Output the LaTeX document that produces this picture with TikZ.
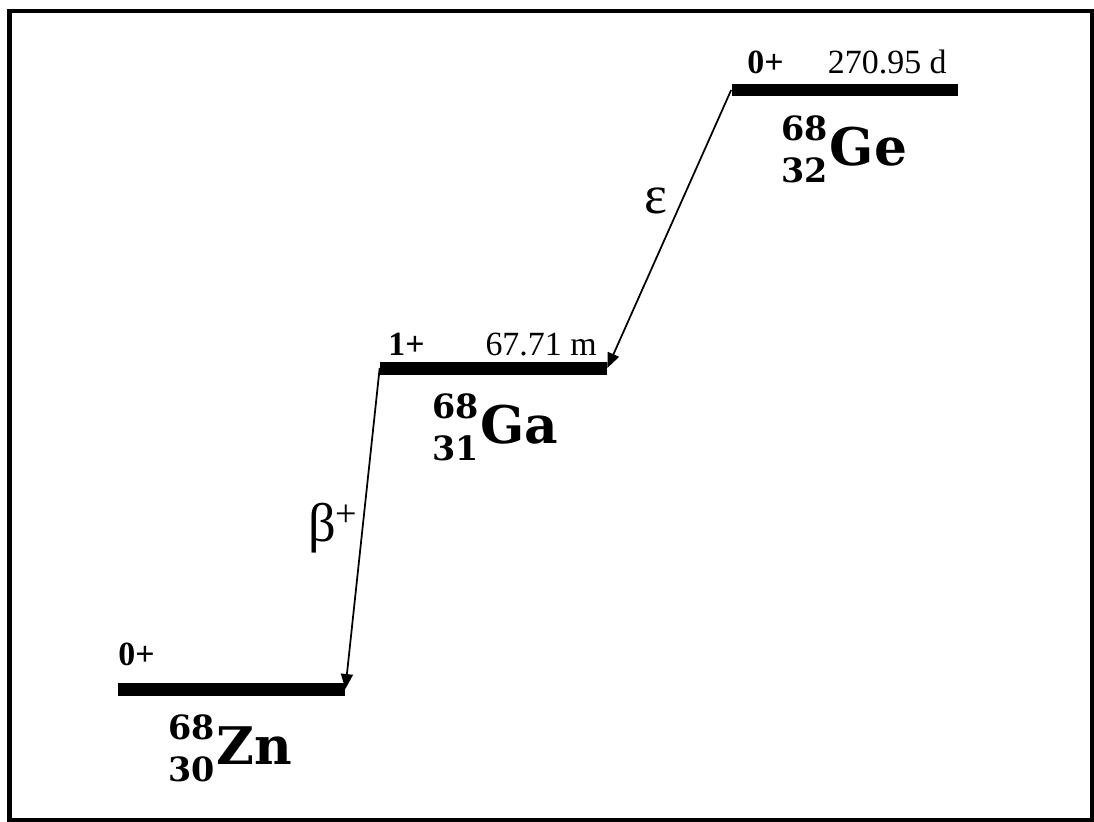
\documentclass[tikz,border=0pt]{standalone}
\usepackage{fontspec}
\setmainfont{Liberation Serif}
\newfontfamily\isofont{DejaVu Serif}
\usetikzlibrary{arrows.meta,calc}

% nuclide symbol with mass and charge numbers
\newcommand{\nuc}[3]{{\isofont\bfseries
		\makebox[0pt][l]{\raisebox{14pt}{\fontsize{19}{19}\selectfont #1}}%
		\raisebox{-10pt}{\fontsize{19}{19}\selectfont #2}%
		\kern1pt{\fontsize{29.5}{30}\selectfont #3}}}

\begin{document}
\begin{tikzpicture}[
		x=0.02cm, y=-0.02cm,
		>={Triangle[length=0.3cm, width=0.24cm]},
		level/.style={fill=black, inner sep=0pt, minimum width=4.54cm, minimum height=0.26cm},
		spin/.style={font=\fontsize{19.3}{20}\selectfont\bfseries, inner sep=0pt, anchor=base west},
		life/.style={font=\fontsize{19.3}{20}\selectfont, inner sep=0pt, anchor=base east},
		nuclide/.style={inner sep=0pt, anchor=base west},
		decay/.style={->, line width=0.035cm},
		mode/.style={font=\fontsize{31}{32}\selectfont, inner sep=2pt}
		]
		
		\useasboundingbox (0,0) rectangle (1094,821);
		\draw[line width=0.09cm] (9.5,11) rectangle (1092,820);
		
		% -------------------------
		% Levels
		% -------------------------
		\node[level] (Ge) at (845,90) {};
		\node[level] (Ga) at (493.5,368) {};
		\node[level] (Zn) at (231.5,689) {};
		
		\node[spin] (GeSpin) at (747,73) {0+};
		\node[life] (GeLife) at (947,73) {270.95 d};
		\node[spin] (GaSpin) at (388,355) {1+};
		\node[life] (GaLife) at (597,355) {67.71 m};
		\node[spin] (ZnSpin) at (118,665) {0+};
		
		\node[nuclide] (GeName) at ($(Ge.west)+(50,75)$) {\nuc{68}{32}{Ge}};
		\node[nuclide] (GaName) at ($(Ga.west)+(52,75)$) {\nuc{68}{31}{Ga}};
		\node[nuclide] (ZnName) at ($(Zn.west)+(50,75)$) {\nuc{68}{30}{Zn}};
		
		% -------------------------
		% Decays
		% -------------------------
		\draw[decay] (Ge.west) -- node[mode, pos=0.4, left=0.2cm] (eps) {ε} (Ga.east);
		\draw[decay] (Ga.west) -- node[mode, midway, left] (beta) {β\textsuperscript{+}} (Zn.east);
		
	\end{tikzpicture}
\end{document}
